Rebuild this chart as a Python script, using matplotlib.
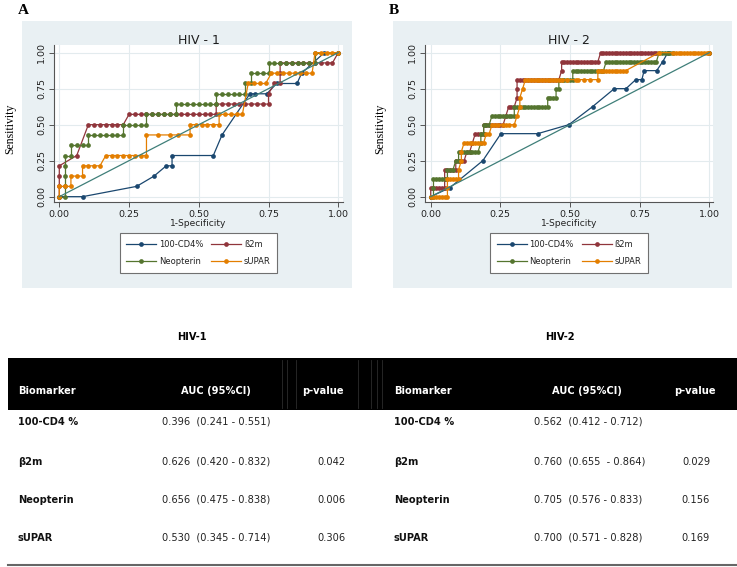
import numpy as np
import matplotlib
matplotlib.use('Agg')
import matplotlib.pyplot as plt
from matplotlib.patches import Rectangle
from matplotlib.lines import Line2D

# ROC points: (false positives, true positives) as counts
n_ctrl_1, n_case_1 = 48, 14
n_ctrl_2, n_case_2 = 100, 16

cd4_hiv1 = [(0, 0), (4, 0), (13.3, 1), (16.3, 2), (18.4, 3), (19.4, 3), (19.4, 4), (26.5, 4),
            (28, 6), (32.8, 10), (33.7, 10), (35.7, 10), (37.4, 11), (40.9, 11), (41.7, 12),
            (45.6, 14), (48, 14)]
b2m_hiv1 = [(0, 0), (0, 1), (0, 2), (0, 3), (3, 4), (5, 7), (6, 7), (7, 7), (8, 7), (9, 7),
            (10, 7), (11, 7), (12, 8), (13, 8), (14, 8), (15, 8), (16, 8), (17, 8), (18, 8),
            (19, 8), (20, 8), (21, 8), (22, 8), (23, 8), (24, 8), (25, 8), (26, 8), (27, 8),
            (27, 9), (28, 9), (29, 9), (30, 9), (31, 9), (32, 9), (33, 9), (34, 9), (35, 9),
            (36, 9), (36, 10), (37, 11), (38, 11), (38, 12), (38, 13), (39, 13), (40, 13),
            (41, 13), (42, 13), (43, 13), (44, 13), (45, 13), (46, 13), (47, 13), (48, 14)]
neo_hiv1 = [(0, 0), (1, 0), (1, 1), (1, 2), (1, 3), (1, 4), (2, 4), (2, 5), (3, 5), (4, 5),
            (5, 5), (5, 6), (6, 6), (7, 6), (8, 6), (9, 6), (10, 6), (11, 6), (11, 7), (12, 7),
            (13, 7), (14, 7), (15, 7), (15, 8), (16, 8), (17, 8), (18, 8), (19, 8), (20, 8),
            (20, 9), (21, 9), (22, 9), (23, 9), (24, 9), (25, 9), (26, 9), (27, 9), (27, 10),
            (28, 10), (29, 10), (30, 10), (31, 10), (32, 10), (32, 11), (33, 11), (33, 12),
            (34, 12), (35, 12), (36, 12), (36, 13), (37, 13), (38, 13), (39, 13), (40, 13),
            (41, 13), (42, 13), (43, 13), (44, 13), (44, 14), (48, 14)]
sup_hiv1 = [(0, 0), (0, 1), (1, 1), (2, 1), (2, 2), (3, 2), (4, 2), (4, 3), (5, 3), (6, 3),
            (7, 3), (8, 4), (9, 4), (10, 4), (11, 4), (12, 4), (13, 4), (14, 4), (15, 4),
            (15, 6), (17, 6), (19, 6), (20.5, 6), (22.5, 6), (22.5, 7), (23.5, 7), (24.5, 7),
            (25.5, 7), (26.5, 7), (27.5, 7), (27.5, 8), (28.5, 8), (29.5, 8), (30.5, 8),
            (31.5, 8), (32.5, 11), (33.5, 11), (34.5, 11), (35.5, 11), (36.5, 12), (37.5, 12),
            (38.5, 12), (39.5, 12), (40.5, 12), (41.5, 12), (42.5, 12), (43.5, 12), (44, 14),
            (45, 14), (46, 14), (47, 14), (48, 14)]

cd4_hiv2 = [(0, 0), (6.9, 1), (18.7, 4), (25.2, 7), (38.4, 7), (49.6, 8), (58.1, 10),
            (65.9, 12), (70.1, 12), (73.6, 13), (75.8, 13), (76.6, 14), (81.1, 14),
            (83.3, 15), (85.1, 16), (100, 16)]
b2m_hiv2 = [(0, 0),
            (0, 1), (1, 1), (2, 1), (3, 1), (4, 1), (5, 1), (5, 2),
            (5, 3), (6, 3), (7, 3), (8, 3), (9, 3),
            (9, 4), (10, 4), (11, 4), (12, 4), (13, 5), (14, 5), (15, 6),
            (16, 7), (17, 7), (18, 7), (19, 7),
            (19, 8), (20, 8), (21, 8), (22, 8), (23, 8), (24, 8), (25, 8), (26, 8),
            (27, 9), (28, 10), (29, 10), (30, 10), (31, 11), (31, 12),
            (31, 13), (32, 13), (33, 13), (34, 13), (35, 13), (36, 13), (37, 13), (38, 13),
            (39, 13), (40, 13), (41, 13), (42, 13), (43, 13), (44, 13), (45, 13), (46, 13),
            (47, 14),
            (47, 15), (48, 15), (49, 15), (50, 15), (51, 15), (52, 15), (53, 15), (54, 15),
            (55, 15), (56, 15), (57, 15), (58, 15), (59, 15), (60, 15),
            (61, 16), (62, 16), (63, 16), (64, 16), (65, 16), (66, 16), (67, 16), (68, 16),
            (69, 16), (70, 16), (71, 16), (72, 16), (73, 16), (74, 16), (75, 16), (76, 16),
            (77, 16), (78, 16), (79, 16), (80, 16), (81, 16), (100, 16)]
neo_hiv2 = [(0, 0), (1, 0), (1, 1),
            (1, 2), (2, 2), (3, 2), (4, 2), (5, 2), (6, 2),
            (6, 3), (7, 3), (8, 3), (9, 4), (10, 4),
            (10, 5), (11, 5), (12, 5), (13, 5), (14, 5), (15, 5), (16, 5), (17, 5),
            (18, 6), (18, 7), (19, 7), (19, 8), (20, 8), (21, 8),
            (22, 9), (23, 9), (24, 9), (25, 9), (26, 9), (27, 9), (28, 9), (29, 9), (30, 9),
            (30, 10), (31, 10), (32, 10), (33, 10), (34, 10), (35, 10), (36, 10), (37, 10),
            (38, 10), (39, 10), (40, 10), (41, 10), (42, 10),
            (42, 11), (43, 11), (44, 11), (45, 11), (45, 12), (46, 12),
            (46, 13), (47, 13), (48, 13), (49, 13), (50, 13), (51, 13),
            (51, 14), (52, 14), (53, 14), (54, 14), (55, 14), (56, 14), (57, 14), (58, 14),
            (59, 14), (60, 14), (61, 14), (62, 14),
            (63, 15), (64, 15), (65, 15), (66, 15), (67, 15), (68, 15), (69, 15), (70, 15),
            (71, 15), (72, 15), (73, 15), (74, 15), (75, 15), (76, 15), (77, 15), (78, 15),
            (79, 15), (80, 15), (81, 15),
            (82, 16), (83, 16), (84, 16), (85, 16), (86, 16), (87, 16), (100, 16)]
sup_hiv2 = [(0, 0), (1, 0), (2, 0), (3, 0), (4, 0), (5, 0), (6, 0), (6, 1),
            (6, 2), (7, 2), (8, 2), (9, 2), (10, 2), (10, 3), (11, 4), (11, 5),
            (12, 6), (13, 6), (14, 6), (15, 6), (16, 6), (17, 6), (18, 6), (19, 6),
            (20, 7), (21, 7),
            (22, 8), (23, 8), (24, 8), (26, 8), (27, 8), (28, 8), (30, 8),
            (31, 9), (32, 10), (32, 11), (33, 12),
            (34, 13), (35, 13), (36, 13), (37, 13), (38, 13), (39, 13), (40, 13), (41, 13),
            (42, 13), (43, 13), (44, 13), (45, 13), (46, 13), (47, 13), (49, 13), (52, 13),
            (53, 13), (55, 13), (57, 13), (60, 13),
            (60, 14), (61, 14), (62, 14), (63, 14), (64, 14), (65, 14), (66, 14), (67, 14),
            (68, 14), (69, 14), (70, 14),
            (82, 16), (87, 16), (88, 16), (89, 16), (90, 16), (91, 16), (92, 16), (93, 16),
            (94, 16), (95, 16), (96, 16), (97, 16), (98, 16), (99, 16), (100, 16)]

legend_labels = ['100-CD4%', 'ß2m', 'Neopterin', 'sUPAR']
colors = ['#1a476f', '#90353b', '#55752f', '#e37e00']
diag_color = '#3f7f79'
ticks = [0, 0.25, 0.5, 0.75, 1.0]
tick_labels = ['0.00', '0.25', '0.50', '0.75', '1.00']

# table values
biomarkers = ['100-CD4 %', 'β2m', 'Neopterin', 'sUPAR']
auc_hiv1 = ['0.396  (0.241 - 0.551)', '0.626  (0.420 - 0.832)',
            '0.656  (0.475 - 0.838)', '0.530  (0.345 - 0.714)']
p_hiv1 = ['', '0.042', '0.006', '0.306']
auc_hiv2 = ['0.562  (0.412 - 0.712)', '0.760  (0.655  - 0.864)',
            '0.705  (0.576 - 0.833)', '0.700  (0.571 - 0.828)']
p_hiv2 = ['', '0.029', '0.156', '0.169']

W, H = 737, 567
fig = plt.figure(figsize=(W / 100, H / 100), dpi=100)
fig.patch.set_facecolor('white')


def fx(x):
    return x / W


def fy(y):
    return 1 - y / H


tab_font = 'DejaVu Sans'
tab_size = 7.1
bg = '#e9f0f3'


def roc_panel(left, right, xlo, xhi, curves, n_ctrl, n_case, title, letter, bg_x0, bg_x1, ylab_x):
    fig.patches.append(Rectangle((fx(bg_x0), fy(288)), fx(bg_x1) - fx(bg_x0), fy(21) - fy(288),
                                 transform=fig.transFigure, facecolor=bg, edgecolor='none',
                                 zorder=-5))
    ax = fig.add_axes([fx(left), fy(202), fx(right) - fx(left), fy(45) - fy(202)])
    ax.set_zorder(2)
    ax.set_facecolor('white')
    for pts, c in zip(curves, colors):
        fp = np.array([p[0] for p in pts]) / n_ctrl
        tp = np.array([p[1] for p in pts]) / n_case
        ax.plot(fp, tp, '-o', color=c, lw=0.9, ms=3.4, mew=0)
    ax.plot([0, 1], [0, 1], color=diag_color, lw=0.9)
    ax.set_xlim(xlo, xhi)
    ax.set_ylim(-0.037, 1.053)
    ax.set_xticks(ticks)
    ax.set_xticklabels(tick_labels)
    ax.set_yticks(ticks)
    ax.set_yticklabels(tick_labels, rotation=90, va='center')
    ax.grid(True, color='#e3ebee', lw=0.8)
    ax.set_axisbelow(True)
    for s in ['top', 'right']:
        ax.spines[s].set_visible(False)
    for s in ['left', 'bottom']:
        ax.spines[s].set_color('#555555')
        ax.spines[s].set_linewidth(0.8)
    ax.tick_params(direction='out', length=3.5, width=0.7, color='#555555',
                   labelsize=6.8, labelcolor='#222222', pad=2)
    cx = (left + right) / 2
    fig.text(fx(cx), fy(41), title, ha='center', va='center', fontsize=9, color='#1e1e1e')
    fig.text(fx(cx), fy(223), '1-Specificity', ha='center', va='center', fontsize=6.6, color='#222222')
    fig.text(fx(ylab_x), fy(129), 'Sensitivity', rotation=90, ha='center', va='center',
             fontsize=8.5, family='Liberation Serif')
    fig.text(fx(bg_x0 - 4), fy(11), letter, ha='left', va='center', fontsize=11,
             family='Liberation Serif', fontweight='bold')
    handles = [Line2D([0], [0], color=c, lw=0.9, marker='o', ms=3.4, mew=0) for c in colors]
    order = [0, 2, 1, 3]
    leg = ax.legend([handles[i] for i in order], [legend_labels[i] for i in order], ncol=2,
                    loc='upper center', bbox_to_anchor=(fx(cx), fy(233)),
                    bbox_transform=fig.transFigure, borderaxespad=0,
                    fontsize=6, handlelength=3.6, handletextpad=0.3, labelspacing=1.0,
                    borderpad=0.8, columnspacing=1.0, fancybox=False, framealpha=1)
    leg.get_frame().set_edgecolor('#707070')
    leg.get_frame().set_linewidth(0.8)
    for t in leg.get_texts():
        t.set_color('#222222')
    return ax


roc_panel(54, 343, -0.019, 1.017, [cd4_hiv1, b2m_hiv1, neo_hiv1, sup_hiv1],
          n_ctrl_1, n_case_1, 'HIV - 1', 'A', 22, 352, 10)
roc_panel(425, 713.3, -0.0205, 1.0144, [cd4_hiv2, b2m_hiv2, neo_hiv2, sup_hiv2],
          n_ctrl_2, n_case_2, 'HIV - 2', 'B', 393, 732, 380)

# table
fig.text(fx(192), fy(337), 'HIV-1', ha='center', va='center', fontsize=tab_size,
         fontweight='bold', family=tab_font)
fig.text(fx(560), fy(337), 'HIV-2', ha='center', va='center', fontsize=tab_size,
         fontweight='bold', family=tab_font)
fig.patches.append(Rectangle((fx(8), fy(410)), fx(737) - fx(8), fy(358) - fy(410),
                             transform=fig.transFigure, facecolor='black', edgecolor='none'))
for xv in [282, 287, 296, 358, 371, 377, 382]:
    fig.lines.append(Line2D([fx(xv), fx(xv)], [fy(360), fy(408)], transform=fig.transFigure,
                            color='#2c2c2c', lw=0.6))

hdr_y = fy(391)
for bx, ax_c, px_c in [(18, 216, 323), (394, 587, 695)]:
    fig.text(fx(bx), hdr_y, 'Biomarker', ha='left', va='center', color='white',
             fontsize=tab_size, fontweight='bold', family=tab_font)
    fig.text(fx(ax_c), hdr_y, 'AUC (95%CI)', ha='center', va='center', color='white',
             fontsize=tab_size, fontweight='bold', family=tab_font)
    fig.text(fx(px_c), hdr_y, 'p-value', ha='center', va='center', color='white',
             fontsize=tab_size, fontweight='bold', family=tab_font)

row_y = [422, 462, 500, 538]
for i, name in enumerate(biomarkers):
    y = fy(row_y[i])
    fig.text(fx(18), y, name, ha='left', va='center', fontsize=tab_size, fontweight='bold',
             family=tab_font, color='#111111')
    fig.text(fx(162), y, auc_hiv1[i], ha='left', va='center', fontsize=tab_size,
             family=tab_font, color='#222222')
    fig.text(fx(331), y, p_hiv1[i], ha='center', va='center', fontsize=tab_size,
             family=tab_font, color='#222222')
    fig.text(fx(394), y, name, ha='left', va='center', fontsize=tab_size, fontweight='bold',
             family=tab_font, color='#111111')
    fig.text(fx(534), y, auc_hiv2[i], ha='left', va='center', fontsize=tab_size,
             family=tab_font, color='#222222')
    fig.text(fx(696), y, p_hiv2[i], ha='center', va='center', fontsize=tab_size,
             family=tab_font, color='#222222')

fig.lines.append(Line2D([fx(8), fx(737)], [fy(565), fy(565)], transform=fig.transFigure,
                        color='#666666', lw=1.5))

fig.savefig('out.png', dpi=100)
